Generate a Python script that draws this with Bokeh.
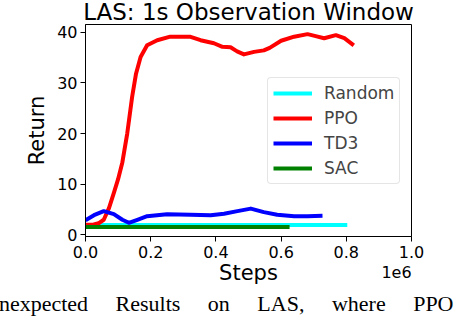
from bokeh.plotting import figure
from bokeh.models import Legend, LegendItem, FixedTicker, Range1d, LinearAxis
from bokeh.embed import file_html
from bokeh.resources import INLINE

# ---- data (steps in units of 1e6) ----
random_x = [0.0, 0.2, 0.4, 0.6, 0.803]
random_y = [1.95, 1.95, 1.95, 1.95, 1.95]

ppo_x = [0.0, 0.02, 0.04, 0.056, 0.072, 0.087, 0.10, 0.113, 0.128, 0.143, 0.155, 0.169,
         0.189, 0.22, 0.26, 0.32, 0.353, 0.394, 0.42, 0.445, 0.465, 0.486, 0.517, 0.547,
         0.565, 0.60, 0.64, 0.681, 0.706, 0.732, 0.768, 0.794, 0.823]
ppo_y = [2.0, 2.0, 2.3, 3.0, 5.3, 8.3, 11.0, 14.3, 20.0, 27.2, 31.8, 35.1,
         37.4, 38.4, 39.1, 39.1, 38.4, 37.8, 37.1, 37.0, 36.2, 35.6, 36.1, 36.4,
         36.9, 38.3, 39.1, 39.6, 39.2, 38.8, 39.4, 38.8, 37.4]

td3_x = [0.0, 0.026, 0.056, 0.087, 0.113, 0.133, 0.159, 0.189, 0.25, 0.322, 0.384,
         0.425, 0.466, 0.507, 0.547, 0.588, 0.64, 0.681, 0.727]
td3_y = [2.9, 3.9, 4.7, 4.1, 3.0, 2.4, 3.0, 3.7, 4.1, 4.0, 3.9,
         4.2, 4.7, 5.2, 4.5, 4.0, 3.7, 3.7, 3.8]

sac_x = [0.0, 0.2, 0.4, 0.626]
sac_y = [1.55, 1.55, 1.55, 1.55]

x_ticks = [0.0, 0.2, 0.4, 0.6, 0.8, 1.0]
y_ticks = [0, 10, 20, 30, 40]

series_names = ["Random", "PPO", "TD3", "SAC"]
series_colors = ["#00ffff", "#ff0000", "#0000ff", "#008000"]

title_text = "LAS: 1s Observation Window"
offset_text = "1e6"
offset_pos = 0.954          # where the offset text sits along the x axis
caption_words = ["Unexpected", "Results", "on", "LAS,", "where", "PPO"]

FONT = "DejaVu Sans"

p = figure(width=460, height=320, output_backend="svg", toolbar_location=None,
           x_range=Range1d(0, 1.0), y_range=Range1d(-0.3, 41.5),
           min_border_left=85, min_border_right=49, min_border_top=24, min_border_bottom=84)
p.xgrid.visible = False
p.ygrid.visible = False
p.outline_line_color = "black"
p.outline_line_width = 1
p.outline_line_alpha = 1
p.background_fill_color = "white"
p.border_fill_color = "white"

# main title
p.title.text = title_text
p.title.text_font = FONT
p.title.text_font_size = "23px"
p.title.text_font_style = "normal"
p.title.text_color = "black"
p.title.align = "center"
p.title.vertical_align = "top"
p.title.standoff = -5

data = [(random_x, random_y), (ppo_x, ppo_y), (td3_x, td3_y), (sac_x, sac_y)]
renderers = []
for (xs, ys), c in zip(data, series_colors):
    r = p.line(xs, ys, line_color=c, line_width=4, line_join="round")
    renderers.append(r)

for ax in (p.xaxis[0], p.yaxis[0]):
    ax.major_tick_out = 5
    ax.major_tick_in = 0
    ax.minor_tick_line_color = None
    ax.axis_line_color = "black"
    ax.major_tick_line_color = "black"
    ax.major_label_text_font = FONT
    ax.major_label_text_font_size = "16px"
    ax.major_label_text_color = "black"
    ax.axis_label_text_font = FONT
    ax.axis_label_text_font_size = "21px"
    ax.axis_label_text_font_style = "normal"
    ax.axis_label_text_color = "black"

p.xaxis[0].ticker = FixedTicker(ticks=x_ticks)
p.xaxis[0].major_label_overrides = {t: f"{t:.1f}" for t in x_ticks}
p.xaxis[0].axis_label = "Steps"
p.xaxis[0].major_label_standoff = 4
p.xaxis[0].axis_label_standoff = 0
p.yaxis[0].ticker = FixedTicker(ticks=y_ticks)
p.yaxis[0].axis_label = "Return"
p.yaxis[0].major_label_standoff = 3
p.yaxis[0].axis_label_standoff = 5

# second, bare x axis: carries the "1e6" offset text (pulled up beside "Steps")
# and, as its axis label, the fragment of the caption printed under the figure
gap = " \u00a0\u00a0\u00a0\u00a0"
caption = gap.join(caption_words) + "\u00a0" * 11
ax2 = LinearAxis(ticker=FixedTicker(ticks=[offset_pos]),
                 major_label_overrides={offset_pos: offset_text},
                 major_tick_out=0, major_tick_in=0,
                 major_tick_line_color=None, minor_tick_line_color=None,
                 axis_line_color=None,
                 major_label_text_font=FONT, major_label_text_font_size="16px",
                 major_label_text_color="black", major_label_standoff=-22,
                 axis_label=caption, axis_label_standoff=10,
                 axis_label_text_font="Liberation Serif", axis_label_text_font_size="22px",
                 axis_label_text_font_style="normal", axis_label_text_color="black")
p.add_layout(ax2, "below")

legend = Legend(items=[LegendItem(label=n, renderers=[r]) for n, r in zip(series_names, renderers)],
                location=(182, 52), margin=0, padding=5, spacing=5,
                glyph_width=39, glyph_height=20, label_height=20, label_standoff=12,
                label_text_font=FONT, label_text_font_size="17px",
                border_line_color="#cccccc", border_line_width=1,
                background_fill_color="white", background_fill_alpha=0.8)
try:
    legend.border_radius = 4
except Exception:
    pass
p.add_layout(legend, "center")

open("out.html", "w").write(file_html(p, INLINE))
